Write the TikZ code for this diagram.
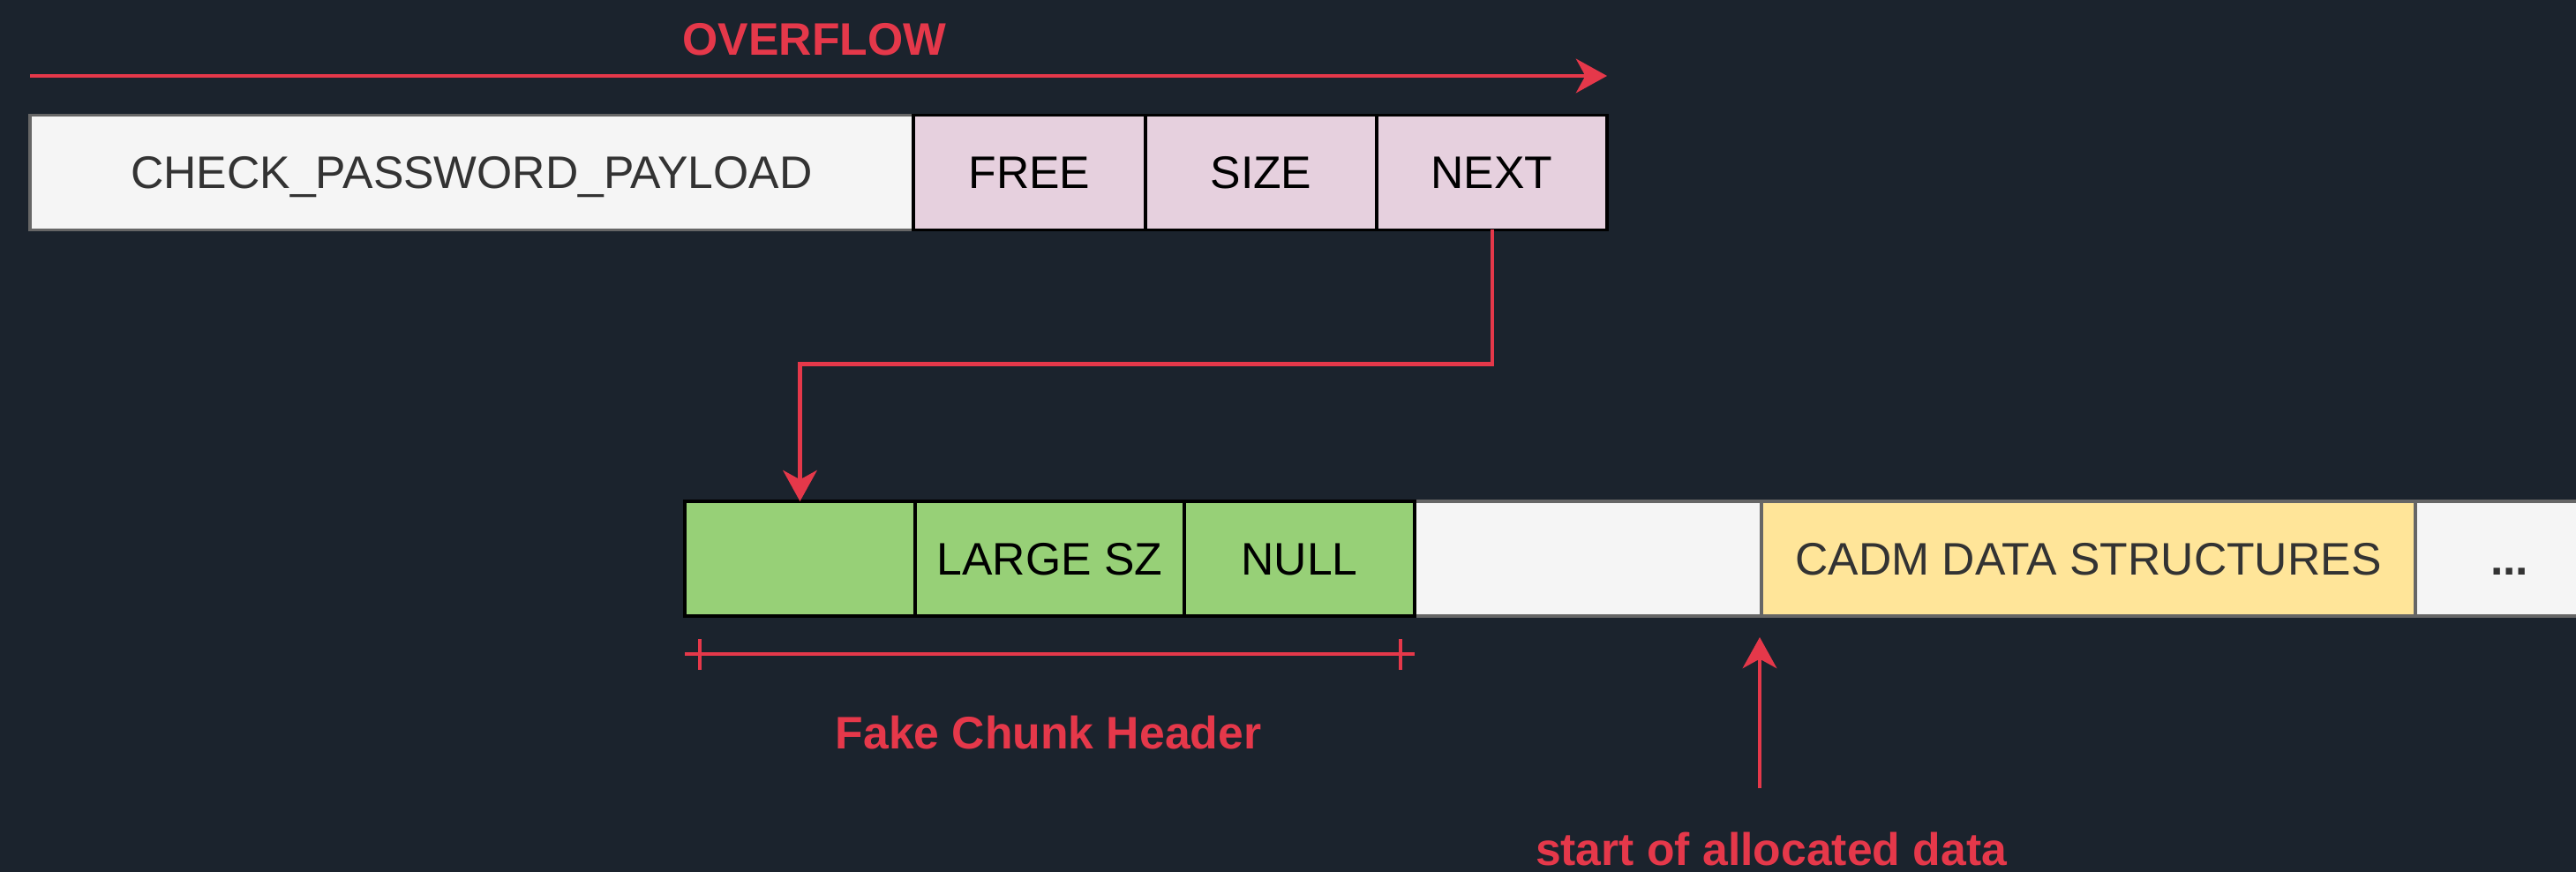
\documentclass[tikz,border=0pt]{standalone}
\usepackage{fontspec}
\setmainfont{Liberation Sans}
\usepackage{tikz}
\usetikzlibrary{arrows.meta}

\definecolor{bgnavy}{HTML}{1B232D}
\definecolor{warnred}{HTML}{E5384A}
\definecolor{hdrpink}{HTML}{E6D0DE}
\definecolor{fakegreen}{HTML}{97D077}
\definecolor{datayellow}{HTML}{FFE599}
\definecolor{plainwhite}{HTML}{F5F5F5}
\definecolor{edgegray}{HTML}{666666}
\definecolor{txtgray}{HTML}{333333}

\tikzset{
  cell/.style={draw,line width=1pt,inner sep=0pt,outer sep=0pt,anchor=west,
    minimum height=1.3cm,text height=0.37cm,text depth=0pt,
    font=\fontsize{14.7}{17}\selectfont},
  plaincell/.style={cell,draw=edgegray,fill=plainwhite,text=txtgray},
  hdrcell/.style={cell,draw=black,fill=hdrpink},
  fakecell/.style={cell,draw=black,fill=fakegreen},
  redline/.style={draw=warnred,line width=1.15pt},
  redtxt/.style={text=warnred,font=\fontsize{14.7}{17}\selectfont\bfseries},
  redarrow/.style={redline,-{Stealth[length=10pt,width=11pt,inset=3pt]}}
}

\begin{document}
\begin{tikzpicture}
\fill[bgnavy] (0,0) rectangle (29.19,-9.88);
\useasboundingbox (0,0) rectangle (29.19,-9.88);
\clip (0,0) rectangle (29.19,-9.88);

% overflowing chunk
\path (0.34,-1.955) node[plaincell,minimum width=10.01cm] (p0) {CHECK\_PASSWORD\_PAYLOAD};
\path (10.35,-1.955) node[hdrcell,minimum width=2.63cm] (h1) {FREE};
\path (12.98,-1.955) node[hdrcell,minimum width=2.62cm] (h2) {SIZE};
\path (15.60,-1.955) node[hdrcell,minimum width=2.61cm] (h3) {NEXT};

\coordinate (o0) at (0.34,-0.86);
\coordinate (o1) at (18.21,-0.86);
\draw[redarrow] (o0) -- (o1);
\path (9.23,-0.45) node[redtxt] (ovf) {OVERFLOW};

% memory after the fake chunk
\path (16.03,-6.33) node[plaincell,minimum width=3.93cm] (w0) {};
\path (19.96,-6.33) node[plaincell,fill=datayellow,minimum width=7.41cm] (y0) {CADM DATA STRUCTURES};
\path (27.37,-6.33) node[plaincell,minimum width=2.13cm,font=\fontsize{14.7}{17}\selectfont\bfseries] (d0) {...};

% fake chunk header
\path (7.76,-6.33) node[fakecell,minimum width=2.61cm] (g0) {};
\path (10.37,-6.33) node[fakecell,minimum width=3.05cm] (g1) {LARGE SZ};
\path (13.42,-6.33) node[fakecell,minimum width=2.61cm] (g2) {NULL};

\draw[redarrow] (h3.south) -- ++(0,-1.52) -| (g0.north);

\draw[redline] ([yshift=-0.43cm]g0.south west) -- ([yshift=-0.43cm]g2.south east);
\draw[redline] ([xshift=0.17cm,yshift=-0.26cm]g0.south west) -- ++(0,-0.35);
\draw[redline] ([xshift=-0.16cm,yshift=-0.26cm]g2.south east) -- ++(0,-0.35);
\path (11.88,-8.30) node[redtxt] (fch) {Fake Chunk Header};

\coordinate (s0) at (19.94,-8.93);
\draw[redarrow,shorten >=0.24cm] (s0) -- (s0 |- w0.south);
\path (20.07,-9.62) node[redtxt] (sad) {start of allocated data};
\end{tikzpicture}
\end{document}
